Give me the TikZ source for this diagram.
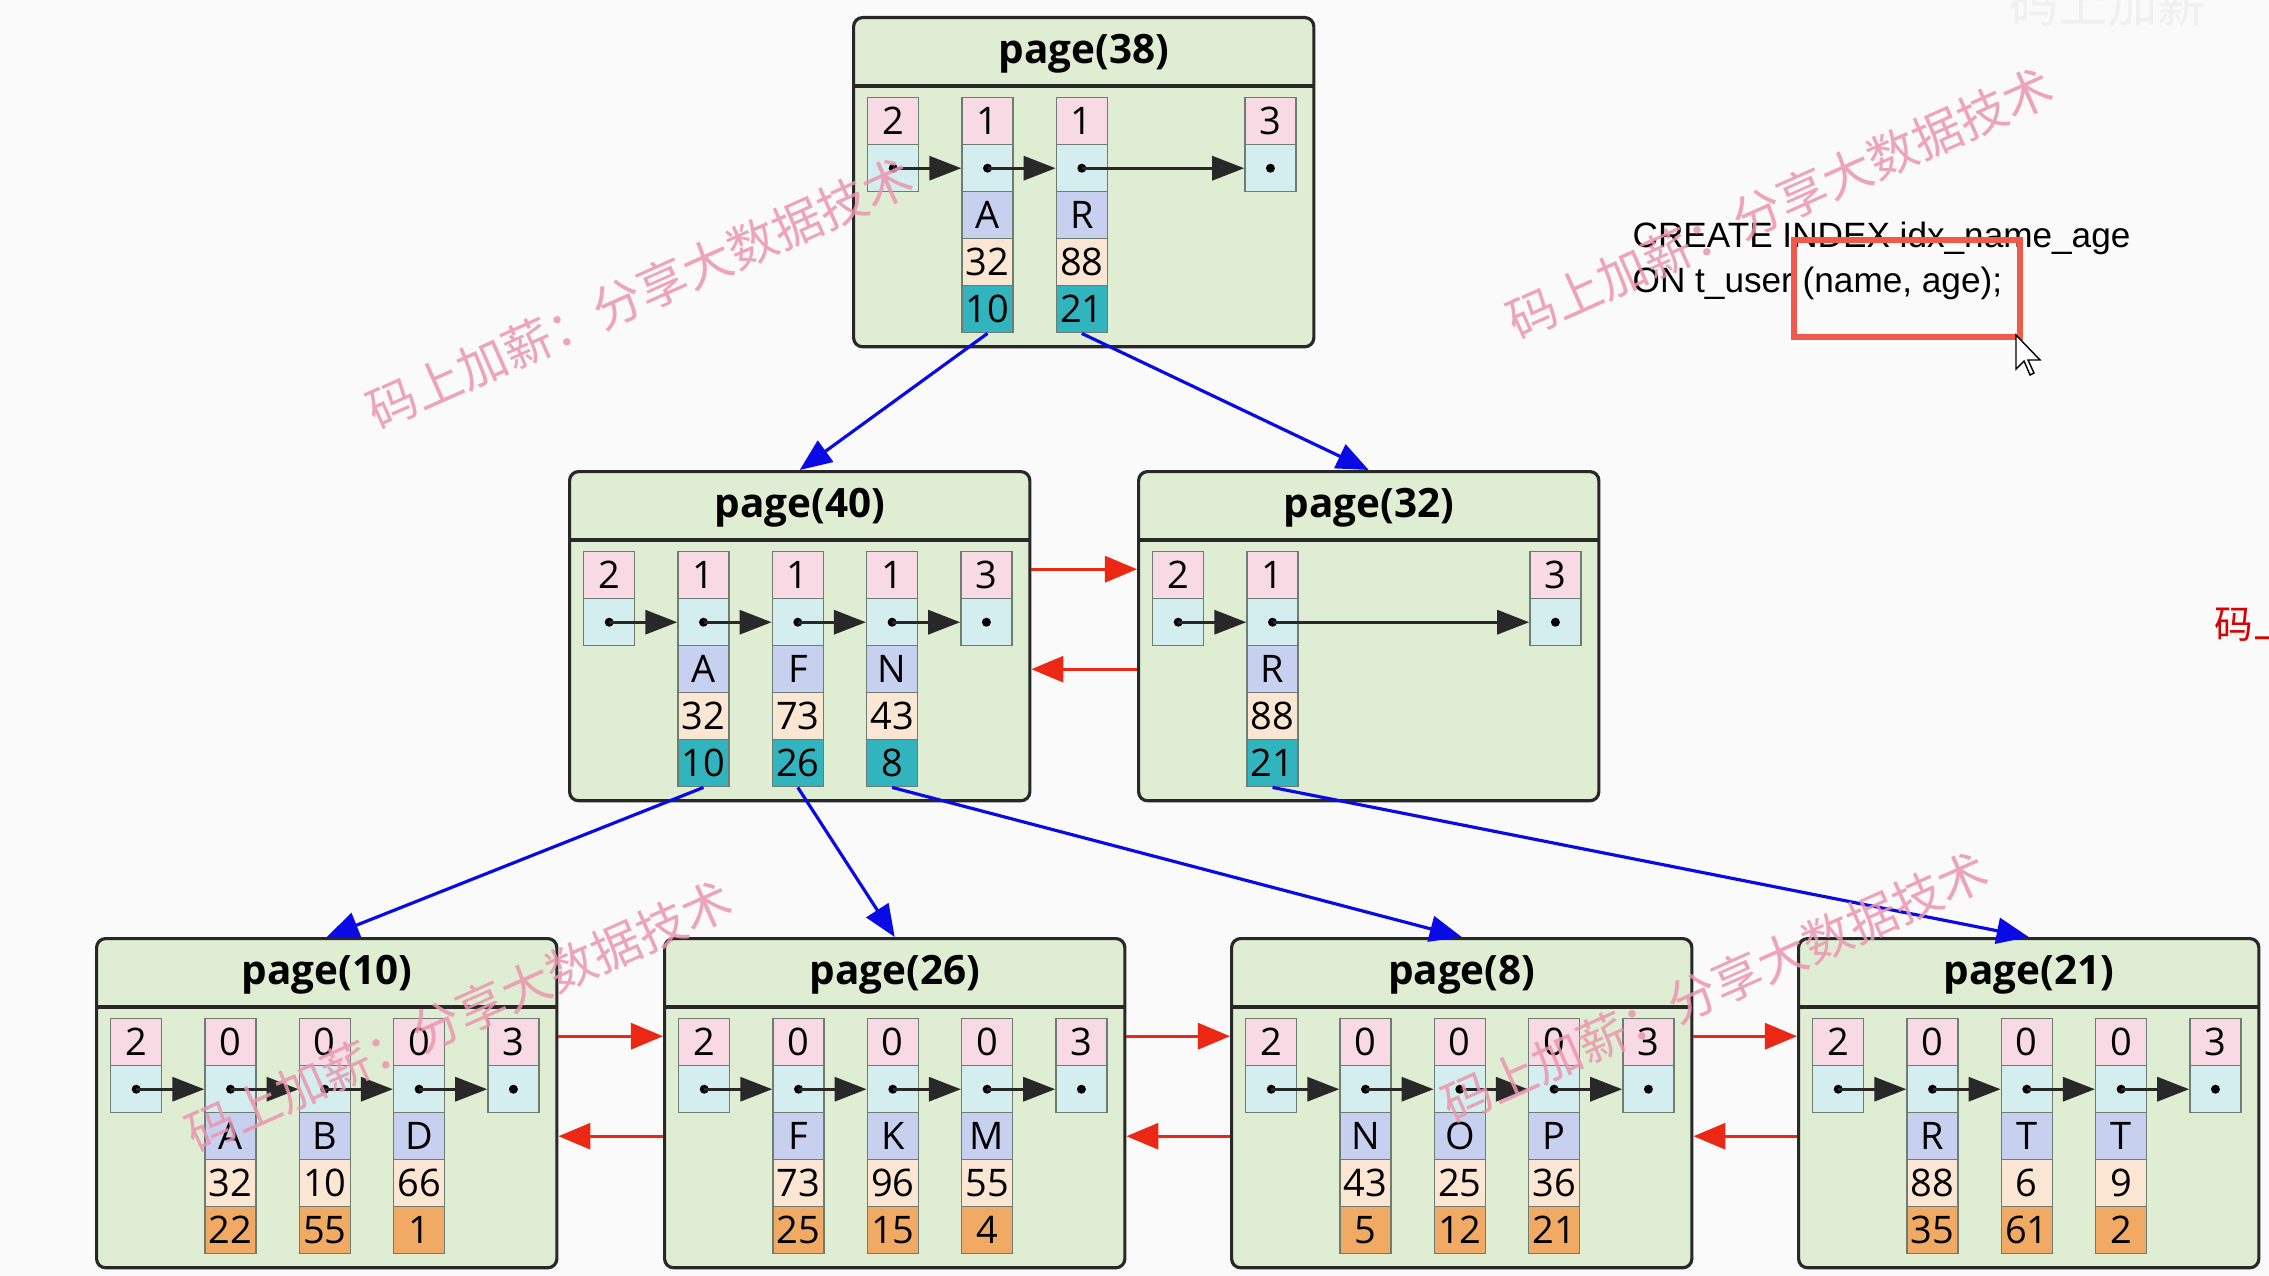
\documentclass[tikz,border=0pt]{standalone}
\usepackage{fontspec}
\setmainfont{Open Sans}
\newfontfamily\cjkfont{Noto Sans CJK SC}
\newfontfamily\sqlfont{Liberation Sans}
\usetikzlibrary{arrows.meta,calc}

\definecolor{bgc}{RGB}{250,250,250}
\definecolor{pagec}{RGB}{223,237,210}
\definecolor{cpink}{RGB}{248,218,228}
\definecolor{ccyan}{RGB}{212,237,238}
\definecolor{clav}{RGB}{200,208,240}
\definecolor{cpeach}{RGB}{250,230,210}
\definecolor{cteal}{RGB}{50,180,190}
\definecolor{corange}{RGB}{240,170,100}
\definecolor{cellline}{RGB}{110,125,115}
\definecolor{darkline}{RGB}{40,40,40}
\definecolor{linkblue}{RGB}{10,10,230}
\definecolor{linkred}{RGB}{235,40,20}
\definecolor{markpink}{RGB}{235,150,175}
\definecolor{boxred}{RGB}{240,90,75}

\tikzset{
  page/.style={draw=darkline, fill=pagec, line width=0.9pt, rounded corners=0.09cm,
    minimum width=4.6cm, minimum height=3.29cm, inner sep=0pt},
  pagerule/.style={draw=darkline, line width=0.9pt},
  pagetitle/.style={font=\fontsize{11.5}{13}\selectfont\bfseries},
  cell/.style={draw=cellline, line width=0.4pt, minimum width=0.51cm, minimum height=0.47cm,
    inner sep=0pt, font=\fontsize{10.8}{12}\selectfont},
  dotc/.style={fill=black},
  chain/.style={draw=darkline, line width=0.9pt, -{Triangle[length=0.32cm,width=0.24cm]}},
  downlink/.style={draw=linkblue, line width=0.9pt, -{Triangle[length=0.32cm,width=0.26cm]}},
  sidelink/.style={draw=linkred, line width=0.9pt, -{Triangle[length=0.32cm,width=0.26cm]}},
  watermark/.style={font=\cjkfont\fontsize{14}{14}\selectfont, text=markpink, opacity=0.85, rotate=24},
  sql/.style={font=\sqlfont\fontsize{10}{12}\selectfont, inner sep=0pt, anchor=base west},
  markbox/.style={draw=boxred, line width=1.7pt}
}

% page frame with title bar
\newcommand{\idxpage}[4]{%
  \node[page, anchor=north west] (#1) at (#2,#3) {};
  \draw[pagerule] ([yshift=-7mm]#1.north west) -- ([yshift=-7mm]#1.north east);
  \node[pagetitle] (#1-title) at ([yshift=-3.8mm]#1.north) {#4};}
% one column of cells: page, slot, list of colour/text
\newcommand{\slotcol}[3]{%
  \foreach \fc/\tx [count=\r] in {#3}
    \node[cell, fill=\fc, anchor=north west] (#1-#2-\r) at ($(#1.north west)+(15+94.3*#2,34+47*\r)$) {\tx};
  \fill[dotc] (#1-#2-2) circle (0.045cm);}
\newcommand{\keyslot}[7]{\slotcol{#1}{#2}{cpink/#3,ccyan/{},clav/#4,cpeach/#5,#7/#6}}
\newcommand{\capslot}[3]{\slotcol{#1}{#2}{cpink/#3,ccyan/{}}}

\begin{document}
\begin{tikzpicture}[x=0.01cm, y=-0.01cm]
\useasboundingbox (0,0) rectangle (2269,1276);
\clip (0,0) rectangle (2269,1276);
\fill[bgc] (0,0) rectangle (2269,1276);

% root
\idxpage{p38}{852}{16}{page(38)}
\capslot{p38}{0}{2}
\keyslot{p38}{1}{1}{A}{32}{10}{cteal}
\keyslot{p38}{2}{1}{R}{88}{21}{cteal}
\capslot{p38}{4}{3}
\foreach \a/\b in {0/1,1/2,2/4} \draw[chain] (p38-\a-2.center) -- (p38-\b-2.west);

% inner level
\idxpage{p40}{568}{470}{page(40)}
\capslot{p40}{0}{2}
\keyslot{p40}{1}{1}{A}{32}{10}{cteal}
\keyslot{p40}{2}{1}{F}{73}{26}{cteal}
\keyslot{p40}{3}{1}{N}{43}{8}{cteal}
\capslot{p40}{4}{3}
\foreach \a/\b in {0/1,1/2,2/3,3/4} \draw[chain] (p40-\a-2.center) -- (p40-\b-2.west);

\idxpage{p32}{1137}{470}{page(32)}
\capslot{p32}{0}{2}
\keyslot{p32}{1}{1}{R}{88}{21}{cteal}
\capslot{p32}{4}{3}
\foreach \a/\b in {0/1,1/4} \draw[chain] (p32-\a-2.center) -- (p32-\b-2.west);

% leaves
\idxpage{p10}{95}{937}{page(10)}
\capslot{p10}{0}{2}
\keyslot{p10}{1}{0}{A}{32}{22}{corange}
\keyslot{p10}{2}{0}{B}{10}{55}{corange}
\keyslot{p10}{3}{0}{D}{66}{1}{corange}
\capslot{p10}{4}{3}

\idxpage{p26}{663}{937}{page(26)}
\capslot{p26}{0}{2}
\keyslot{p26}{1}{0}{F}{73}{25}{corange}
\keyslot{p26}{2}{0}{K}{96}{15}{corange}
\keyslot{p26}{3}{0}{M}{55}{4}{corange}
\capslot{p26}{4}{3}

\idxpage{p8}{1230}{937}{page(8)}
\capslot{p8}{0}{2}
\keyslot{p8}{1}{0}{N}{43}{5}{corange}
\keyslot{p8}{2}{0}{O}{25}{12}{corange}
\keyslot{p8}{3}{0}{P}{36}{21}{corange}
\capslot{p8}{4}{3}

\idxpage{p21}{1797}{937}{page(21)}
\capslot{p21}{0}{2}
\keyslot{p21}{1}{0}{R}{88}{35}{corange}
\keyslot{p21}{2}{0}{T}{6}{61}{corange}
\keyslot{p21}{3}{0}{T}{9}{2}{corange}
\capslot{p21}{4}{3}

\foreach \p in {p10,p26,p8,p21}
  \foreach \a/\b in {0/1,1/2,2/3,3/4} \draw[chain] (\p-\a-2.center) -- (\p-\b-2.west);

% child pointers
\draw[downlink] (p38-1-5.south) -- (p40.north);
\draw[downlink] (p38-2-5.south) -- (p32.north);
\draw[downlink] (p40-1-5.south) -- (p10.north);
\draw[downlink] (p40-2-5.south) -- (p26.north);
\draw[downlink] (p40-3-5.south) -- (p8.north);
\draw[downlink] (p32-1-5.south) -- (p21.north);

% sibling pointers
\foreach \l/\r in {p40/p32,p10/p26,p26/p8,p8/p21} {
  \draw[sidelink] ([yshift=0.06cm]\l-1-1 -| \l.east) -- ([yshift=0.06cm]\l-1-1 -| \r.west);
  \draw[sidelink] (\r-1-3 -| \r.west) -- (\r-1-3 -| \l.east);
}

% statement
\node[sql] (sql1) at (1632,248) {CREATE INDEX idx\_name\_age};
\node[sql] (sql2) at (1632,293) {ON t\_user (name, age);};
\draw[markbox] (1794,240) rectangle (2020,337);
\draw[fill=white, draw=black, line width=0.4pt] (2016,335) -- ++(0,34) -- ++(8,-8) -- ++(6,14)
  -- ++(4,-2) -- ++(-6,-13) -- ++(12,0) -- cycle;

% watermarks
\node[watermark] (mark1) at (640,293) {码上加薪：分享大数据技术};
\node[watermark] (mark2) at (1780,203) {码上加薪：分享大数据技术};
\node[watermark] (mark3) at (459,1016) {码上加薪：分享大数据技术};
\node[watermark] (mark4) at (1715,987) {码上加薪：分享大数据技术};
\node[font=\cjkfont\fontsize{14}{14}\selectfont, text=black!6] (mark5) at (2108,4) {码上加薪};
\node[font=\cjkfont\fontsize{11}{11}\selectfont, text=red!85!black, anchor=west, inner sep=0pt] (mark6) at (2214,624) {码上加薪};
\end{tikzpicture}
\end{document}
